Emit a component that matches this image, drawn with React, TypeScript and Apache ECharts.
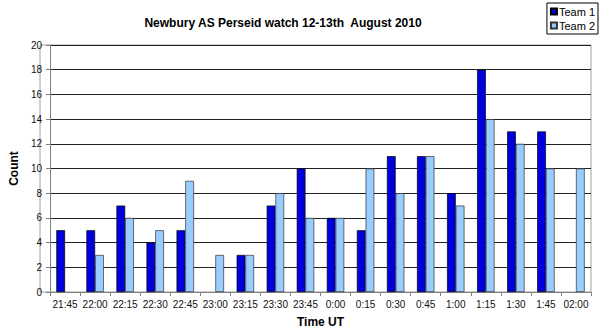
import React, { useEffect, useRef } from "react";
import * as echarts from "echarts";

const categories = ["21:45", "22:00", "22:15", "22:30", "22:45", "23:00", "23:15", "23:30", "23:45", "0:00", "0:15", "0:30", "0:45", "1:00", "1:15", "1:30", "1:45", "02:00"];
const team1 = [5, 5, 7, 4, 5, null, 3, 7, 10, 6, 5, 11, 11, 8, 18, 13, 13, null];
const team2 = [null, 3, 6, 5, 9, 3, 3, 8, 6, 6, 10, 8, 11, 7, 14, 12, 10, 10];

const FONT = "Liberation Sans, Arial, sans-serif";

export default function App() {
  const ref = useRef<HTMLDivElement>(null);
  useEffect(() => {
    const chart = echarts.init(ref.current!, null, { renderer: "svg" });
    chart.setOption({
      animation: false,
      backgroundColor: "#ffffff",
      title: {
        text: "Newbury AS Perseid watch 12-13th  August 2010",
        left: 278,
        textAlign: "center",
        top: 12,
        textStyle: { fontFamily: FONT, fontSize: 12, fontWeight: "bold", color: "#000" },
      },
      legend: {
        orient: "vertical",
        right: 3,
        top: 3,
        icon: "rect",
        itemWidth: 6,
        itemHeight: 6,
        itemGap: 3,
        padding: [3, 3, 3, 3],
        borderColor: "#000",
        borderWidth: 1,
        textStyle: { fontFamily: FONT, fontSize: 11, color: "#000", padding: [0, 0, 0, -3] },
        data: ["Team 1", "Team 2"],
      },
      grid: { left: 40, right: 10, top: 45, bottom: 43 },
      xAxis: {
        type: "category",
        data: categories,
        name: "Time UT",
        nameLocation: "middle",
        nameGap: 24,
        nameTextStyle: { fontFamily: FONT, fontSize: 12, fontWeight: "bold", color: "#000" },
        axisLine: { lineStyle: { color: "#808080" } },
        axisTick: { show: true, length: 4, lineStyle: { color: "#808080" } },
        axisLabel: { interval: 0, fontFamily: FONT, fontSize: 10, color: "#111", margin: 7 },
        splitLine: { show: false },
      },
      yAxis: {
        type: "value",
        min: 0,
        max: 20,
        interval: 2,
        name: "Count",
        nameLocation: "middle",
        nameGap: 24,
        nameTextStyle: { fontFamily: FONT, fontSize: 12, fontWeight: "bold", color: "#000" },
        axisLine: { show: true, lineStyle: { color: "#808080" } },
        axisTick: { show: true, length: 4, lineStyle: { color: "#808080" } },
        axisLabel: { fontFamily: FONT, fontSize: 10, color: "#111", margin: 8 },
        splitLine: { show: true, lineStyle: { color: "#222", width: 1 } },
      },
      series: [
        {
          name: "Team 1",
          type: "bar",
          data: team1,
          barGap: "0%",
          barCategoryGap: "42%",
          itemStyle: { color: "#0000dd", borderColor: "#000", borderWidth: 0.7 },
        },
        {
          name: "Team 2",
          type: "bar",
          data: team2,
          itemStyle: { color: "#99ccff", borderColor: "#333", borderWidth: 0.7 },
        },
      ],
      graphic: [
        {
          type: "rect",
          shape: { x: 40, y: 45, width: 551, height: 247 },
          style: { fill: "none", stroke: "#a0a0a0", lineWidth: 1 },
          silent: true,
          z: 0,
        },
      ],
    });
    return () => chart.dispose();
  }, []);
  return <div ref={ref} style={{ width: 601, height: 335, position: "absolute", left: 0, top: 0 }} />;
}
